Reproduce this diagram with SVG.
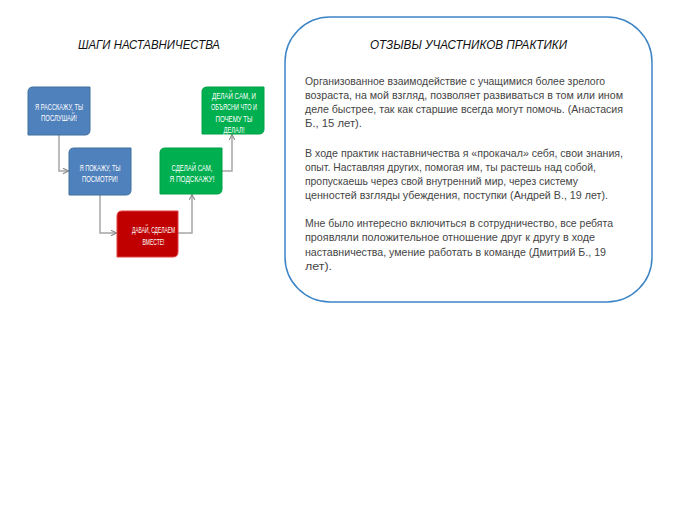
<svg xmlns="http://www.w3.org/2000/svg" width="675" height="525" viewBox="0 0 675 525">
<defs>
<marker id="arr" viewBox="0 0 10 10" refX="9" refY="5" markerWidth="7" markerHeight="7" markerUnits="userSpaceOnUse" orient="auto">
<path d="M1,1 L9,5 L1,9" fill="none" stroke="#8c8c8c" stroke-width="1.6"/>
</marker>
<style>
.title{font-family:"Liberation Sans",Arial,sans-serif;font-style:italic;font-size:12px;fill:#111;text-anchor:middle}
.bt{font-family:"Liberation Sans",Arial,sans-serif;font-size:8.8px;fill:#fff;text-anchor:middle}
.body{font-family:"Liberation Sans",Arial,sans-serif;font-size:10.8px;fill:#454545}
.blue{fill:#4F81BD;stroke:#41719C;stroke-width:1}
.red{fill:#C00000;stroke:#E04040;stroke-width:1}
.green{fill:#00B050;stroke:#00A048;stroke-width:1}
.conn{fill:none;stroke:#A6A6A6;stroke-width:1.5;marker-end:url(#arr)}
</style>
</defs>
<rect width="675" height="525" fill="#fff"/>

<text class="title" x="149" y="49" textLength="142" lengthAdjust="spacingAndGlyphs">ШАГИ НАСТАВНИЧЕСТВА</text>

<g id="connectors">
<path class="conn" d="M59,135 V171 H68.5"/>
<path class="conn" d="M100,195 V233 H116.5"/>
<path class="conn" d="M178,233 H192 V194.5"/>
<path class="conn" d="M222,171 H232 V134.5"/>
</g>

<g id="step1">
<path class="blue" d="M33,87 H90 V130 Q90,135 85,135 H28 V92 Q28,87 33,87 Z"/>
<text class="bt" x="59" y="109.5" textLength="48" lengthAdjust="spacingAndGlyphs">Я РАССКАЖУ, ТЫ</text>
<text class="bt" x="59" y="120.5" textLength="36" lengthAdjust="spacingAndGlyphs">ПОСЛУШАЙ!</text>
</g>

<g id="step2">
<path class="blue" d="M74,148 H131 V190 Q131,195 126,195 H69 V153 Q69,148 74,148 Z"/>
<text class="bt" x="100" y="170.5" textLength="41" lengthAdjust="spacingAndGlyphs">Я ПОКАЖУ, ТЫ</text>
<text class="bt" x="100" y="181.5" textLength="36" lengthAdjust="spacingAndGlyphs">ПОСМОТРИ!</text>
</g>

<g id="step3">
<path class="red" d="M122,211 H178 V252 Q178,257 173,257 H117 V216 Q117,211 122,211 Z"/>
<text class="bt" x="153.5" y="232.5" textLength="43" lengthAdjust="spacingAndGlyphs">ДАВАЙ, СДЕЛАЕМ</text>
<text class="bt" x="153.5" y="244.5" textLength="22" lengthAdjust="spacingAndGlyphs">ВМЕСТЕ!</text>
</g>

<g id="step4">
<path class="green" d="M165,148 H222 V189 Q222,194 217,194 H160 V153 Q160,148 165,148 Z"/>
<text class="bt" x="192" y="170.5" textLength="41" lengthAdjust="spacingAndGlyphs">СДЕЛАЙ САМ,</text>
<text class="bt" x="192" y="181.5" textLength="45" lengthAdjust="spacingAndGlyphs">Я ПОДСКАЖУ!</text>
</g>

<g id="step5">
<path class="green" d="M207,87 H264 V129 Q264,134 259,134 H202 V92 Q202,87 207,87 Z"/>
<text class="bt" x="234" y="98.5" textLength="44" lengthAdjust="spacingAndGlyphs">ДЕЛАЙ САМ, И</text>
<text class="bt" x="234" y="110" textLength="46" lengthAdjust="spacingAndGlyphs">ОБЪЯСНИ ЧТО И</text>
<text class="bt" x="234" y="121.5" textLength="37" lengthAdjust="spacingAndGlyphs">ПОЧЕМУ ТЫ</text>
<text class="bt" x="234" y="132.5" textLength="21" lengthAdjust="spacingAndGlyphs">ДЕЛАЛ!</text>
</g>

<g id="reviews">
<rect x="285" y="17" width="367" height="285" rx="45" ry="45" fill="#fff" stroke="#3D85C6" stroke-width="1.5"/>
<text class="title" x="468.5" y="49" textLength="197" lengthAdjust="spacingAndGlyphs">ОТЗЫВЫ УЧАСТНИКОВ ПРАКТИКИ</text>
<text class="body" x="305" y="85" textLength="300" lengthAdjust="spacingAndGlyphs">Организованное взаимодействие с учащимися более зрелого</text>
<text class="body" x="305" y="99" textLength="318" lengthAdjust="spacingAndGlyphs">возраста, на мой взгляд, позволяет развиваться в том или ином</text>
<text class="body" x="305" y="113" textLength="318" lengthAdjust="spacingAndGlyphs">деле быстрее, так как старшие всегда могут помочь. (Анастасия</text>
<text class="body" x="305" y="127" textLength="57" lengthAdjust="spacingAndGlyphs">Б., 15 лет).</text>
<text class="body" x="305" y="157" textLength="318" lengthAdjust="spacingAndGlyphs">В ходе практик наставничества я «прокачал» себя, свои знания,</text>
<text class="body" x="305" y="171" textLength="291" lengthAdjust="spacingAndGlyphs">опыт. Наставляя других, помогая им, ты растешь над собой,</text>
<text class="body" x="305" y="185" textLength="273" lengthAdjust="spacingAndGlyphs">пропускаешь через свой внутренний мир, через систему</text>
<text class="body" x="305" y="199" textLength="303" lengthAdjust="spacingAndGlyphs">ценностей взгляды убеждения, поступки (Андрей В., 19 лет).</text>
<text class="body" x="305" y="227" textLength="308" lengthAdjust="spacingAndGlyphs">Мне было интересно включиться в сотрудничество, все ребята</text>
<text class="body" x="305" y="241" textLength="290" lengthAdjust="spacingAndGlyphs">проявляли положительное отношение друг к другу в ходе</text>
<text class="body" x="305" y="256" textLength="301" lengthAdjust="spacingAndGlyphs">наставничества, умение работать в команде (Дмитрий Б., 19</text>
<text class="body" x="305" y="270" textLength="27" lengthAdjust="spacingAndGlyphs">лет).</text>
</g>
</svg>
